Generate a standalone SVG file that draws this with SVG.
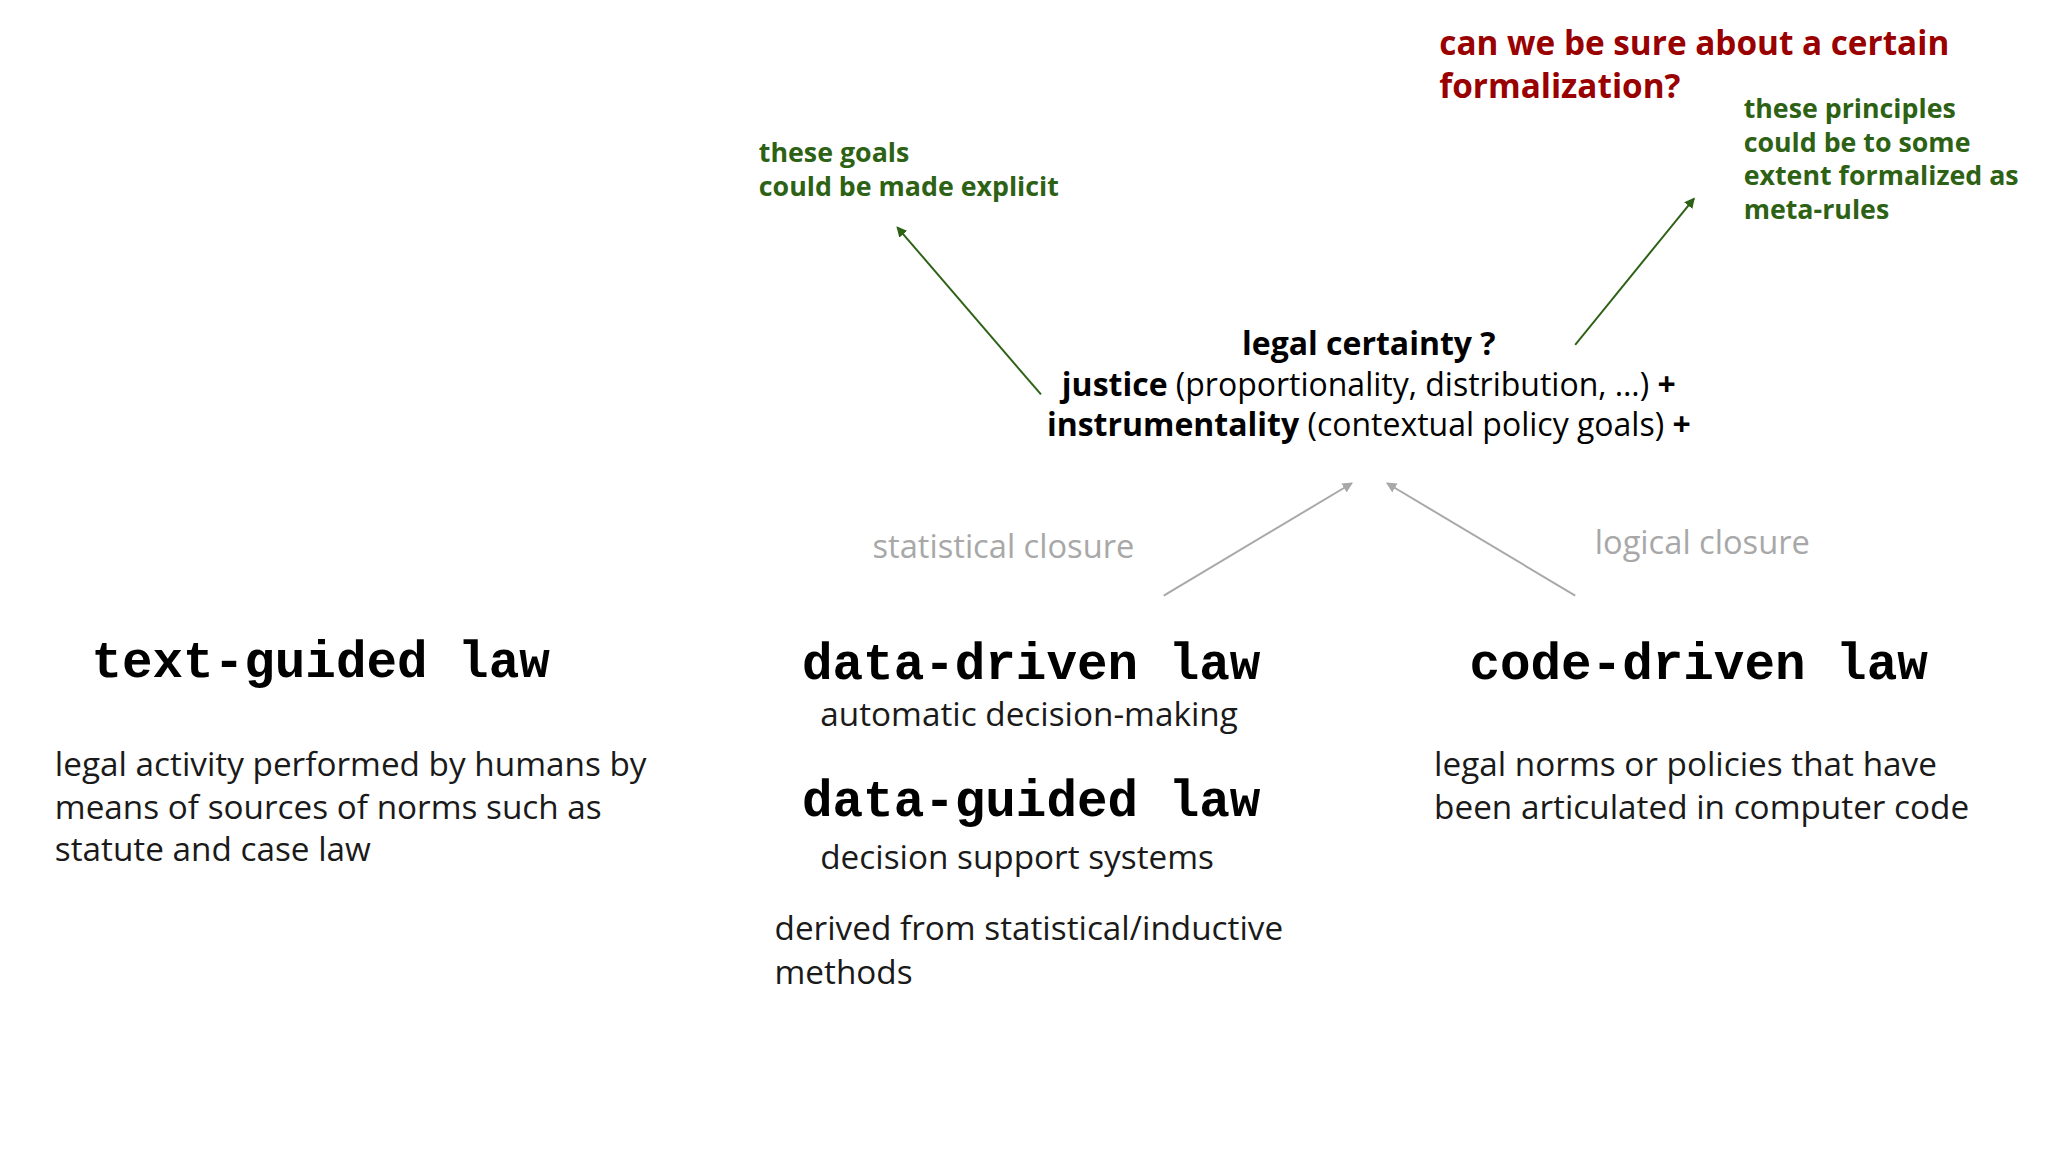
<svg xmlns="http://www.w3.org/2000/svg" width="2048" height="1152" viewBox="0 0 2048 1152">
<style>
.m{font-family:"Liberation Mono",monospace;font-weight:bold;font-size:39px;fill:#000}
.s{font-family:"Open Sans",Roboto,sans-serif;font-size:25.5px;fill:#1a1a1a}
.b{font-family:"Open Sans",Roboto,sans-serif;font-size:24.5px;fill:#000}
.g{font-family:"Open Sans",Roboto,sans-serif;font-size:20.5px;font-weight:bold;fill:#2d6215}
.r{font-family:"Open Sans",Roboto,sans-serif;font-size:25.5px;font-weight:bold;fill:#990000}
.gr{font-family:"Open Sans",Roboto,sans-serif;font-size:25px;fill:#a8a8a8}
</style>
<defs>
<marker id="ag" markerWidth="8" markerHeight="8" refX="7" refY="4" orient="auto" markerUnits="userSpaceOnUse"><path d="M0,0 L8,4 L0,8 z" fill="#2d6215"/></marker>
<marker id="agr" markerWidth="8" markerHeight="8" refX="7" refY="4" orient="auto" markerUnits="userSpaceOnUse"><path d="M0,0 L8,4 L0,8 z" fill="#a8a8a8"/></marker>
</defs>
<rect width="2048" height="1152" fill="#fff"/>
<g transform="scale(1.30612)">
<g id="connectors">
<line x1="797" y1="302" x2="687" y2="174" stroke="#2d6215" stroke-width="1.5" marker-end="url(#ag)"/>
<line x1="1206" y1="264" x2="1297" y2="152" stroke="#2d6215" stroke-width="1.5" marker-end="url(#ag)"/>
<line x1="891" y1="456" x2="1035" y2="370" stroke="#a8a8a8" stroke-width="1.5" marker-end="url(#agr)"/>
<line x1="1206" y1="456" x2="1062" y2="370" stroke="#a8a8a8" stroke-width="1.5" marker-end="url(#agr)"/>
</g>
<g id="question"><text class="r" x="1102" y="42">can we be sure about a certain</text><text class="r" x="1102" y="75">formalization?</text></g>
<g id="goals"><text class="g" x="581" y="124">these goals</text><text class="g" x="581" y="150">could be made explicit</text></g>
<g id="principles"><text class="g" x="1335" y="90">these principles</text><text class="g" x="1335" y="116">could be to some</text><text class="g" x="1335" y="142">extent formalized as</text><text class="g" x="1335" y="168">meta-rules</text></g>
<g id="certainty">
<text class="b" x="1048" y="272" text-anchor="middle" font-weight="bold">legal certainty ?</text>
<text class="b" x="1048" y="303" text-anchor="middle"><tspan font-weight="bold">justice</tspan> (proportionality, distribution, …) <tspan font-weight="bold">+</tspan></text>
<text class="b" x="1048" y="334" text-anchor="middle"><tspan font-weight="bold">instrumentality</tspan> (contextual policy goals) <tspan font-weight="bold">+</tspan></text>
</g>
<g id="statclosure"><text class="gr" x="668" y="427">statistical closure</text></g>
<g id="logclosure"><text class="gr" x="1221" y="424">logical closure</text></g>
<g id="text-guided">
<text class="m" x="70" y="518">text-guided law</text>
<text class="s" x="42" y="594">legal activity performed by humans by</text>
<text class="s" x="42" y="627">means of sources of norms such as</text>
<text class="s" x="42" y="659">statute and case law</text>
</g>
<g id="data-driven">
<text class="m" x="614" y="520">data-driven law</text>
<text class="s" x="628" y="556">automatic decision-making</text>
<text class="m" x="614" y="625">data-guided law</text>
<text class="s" x="628" y="665">decision support systems</text>
<text class="s" x="593" y="720">derived from statistical/inductive</text>
<text class="s" x="593" y="753">methods</text>
</g>
<g id="code-driven">
<text class="m" x="1125" y="520">code-driven law</text>
<text class="s" x="1098" y="594">legal norms or policies that have</text>
<text class="s" x="1098" y="627">been articulated in computer code</text>
</g>
</g>
</svg>
